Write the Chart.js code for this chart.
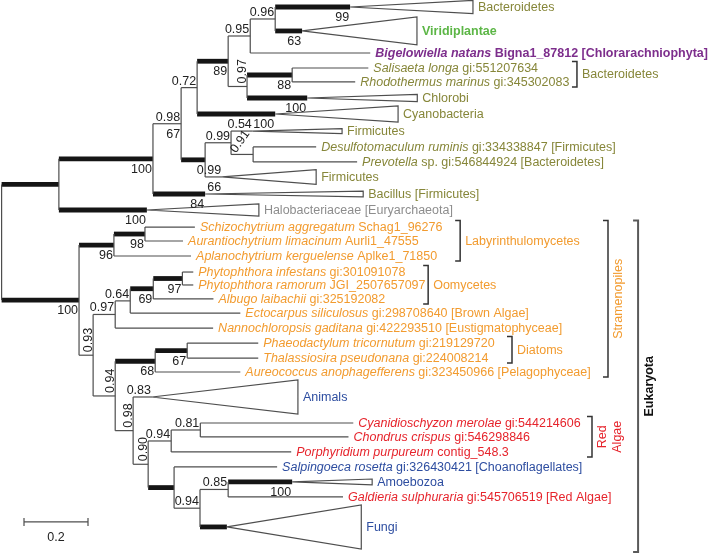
<!DOCTYPE html>
<html>
<head>
<meta charset="utf-8">
<script src="https://cdn.jsdelivr.net/npm/chart.js@4.4.0/dist/chart.umd.min.js"></script>
<style>
  html, body { margin: 0; padding: 0; background: #fff; }
  #wrap { width: 720px; height: 553px; }
</style>
</head>
<body>
<div id="wrap"><canvas id="tree" width="720" height="553"></canvas></div>
<script>
// internal nodes: parent and branch length (substitutions per site)
const nodeNames   = ['A','B','C','L','G','J','K','H','I','D','E','F','M','N','NB','W','O','P','Q','S','V','T','U','X','Y','Z','AB','AA','AC','AD'];
const nodeParents = ['root','A','B','C','L','G','J','G','H','C','D','E','root','M','N','M','W','O','P','Q','W','V','T','V','X','Y','Z','Y','AA','AC'];
const nodeLengths = [0.179,0.294,0.088,0.05,0.097,0.069,0.078,0.059,0.141,0.075,0.081,0.069,0.242,0.109,0.097,0.044,0.069,0.047,0.072,0.091,0.069,0.125,0.1,0.056,0.047,0.072,0.091,0.081,0.081,0.088];
const nodePost    = [null,null,0.98,0.72,null,0.95,0.96,0.97,null,null,0.99,0.91,null,null,null,0.93,0.97,0.64,null,null,0.94,null,null,0.98,0.90,0.94,0.81,null,0.94,0.85];
const nodeBoot    = [null,100,67,null,89,null,null,null,88,null,null,null,100,96,98,null,null,null,69,97,null,68,67,null,null,null,null,null,null,null];
const nodeThick   = [1,1,0,0,1,0,0,0,1,1,0,0,1,1,1,0,0,0,1,1,0,1,1,0,0,0,0,1,0,0];

// leaves, top to bottom (collapsed clades have a width and a half-height)
const leafLabels = [
  'Bacteroidetes', 'Viridiplantae', '*Bigelowiella natans* Bigna1_87812 [Chlorarachniophyta]',
  '*Salisaeta longa* gi:551207634', '*Rhodothermus marinus* gi:345302083', 'Chlorobi', 'Cyanobacteria',
  'Firmicutes', '*Desulfotomaculum ruminis* gi:334338847 [Firmicutes]', '*Prevotella* sp. gi:546844924 [Bacteroidetes]',
  'Firmicutes', 'Bacillus [Firmicutes]', 'Halobacteriaceae [Euryarchaeota]',
  '*Schizochytrium aggregatum* Schag1_96276', '*Aurantiochytrium limacinum* Aurli1_47555', '*Aplanochytrium kerguelense* Aplke1_71850',
  '*Phytophthora infestans* gi:301091078', '*Phytophthora ramorum* JGI_2507657097', '*Albugo laibachii* gi:325192082',
  '*Ectocarpus siliculosus* gi:298708640 [Brown Algae]', '*Nannochloropsis gaditana* gi:422293510 [Eustigmatophyceae]',
  '*Phaeodactylum tricornutum* gi:219129720', '*Thalassiosira pseudonana* gi:224008214', '*Aureococcus anophagefferens* gi:323450966 [Pelagophyceae]',
  'Animals', '*Cyanidioschyzon merolae* gi:544214606', '*Chondrus crispus* gi:546298846', '*Porphyridium purpureum* contig_548.3',
  '*Salpingoeca rosetta* gi:326430421 [Choanoflagellates]', 'Amoebozoa', '*Galdieria sulphuraria* gi:545706519 [Red Algae]', 'Fungi'
];
const leafGroups  = ['bac','plant','chlor','bac','bac','bac','bac','bac','bac','bac','bac','bac','arch',
                     'stram','stram','stram','stram','stram','stram','stram','stram','stram','stram','stram',
                     'opis','red','red','red','opis','opis','red','opis'];
const leafParents = ['K','K','J','I','I','H','L','E','F','F','D','B','A','NB','NB','N','S','S','Q','P','O','U','U','T','X','AB','AB','Z','AA','AD','AD','AC'];
const leafLengths = [0.234,0.084,0.375,0.238,0.197,0.188,0.244,0.068,0.197,0.325,0.053,0.163,0.275,0.156,0.119,0.241,0.034,0.034,0.188,0.344,0.306,0.222,0.222,0.266,0.059,0.478,0.463,0.375,0.322,0.2,0.359,0.084];
const leafRows    = [0,1.63,3.13,4.15,5.1,6.19,7.28,8.44,9.52,10.54,11.56,12.72,13.81,14.97,15.92,16.94,18.03,18.91,19.86,20.82,21.84,22.86,23.88,24.83,26.53,28.3,29.25,30.27,31.29,32.31,33.33,35.37];
const cladeWidths = [0.384,0.359,0,0,0,0.344,0.384,0.279,0,0,0.294,0.494,0.35,0,0,0,0,0,0,0,0,0,0,0,0.456,0,0,0,0,0.25,0,0.42];
const cladeSpans  = [0.45,0.95,0,0,0,0.24,0.55,0.17,0,0,0.5,0.2,0.42,0,0,0,0,0,0,0,0,0,0,0,1.16,0,0,0,0,0.2,0,1.5];
const leafPost    = [null,null,null,null,null,null,null,0.54,null,null,0.99,null,null,null,null,null,null,null,null,null,null,null,null,null,0.83,null,null,null,null,null,null,null];
const leafBoot    = [99,63,null,null,null,100,100,null,null,null,66,84,100,null,null,null,null,null,null,null,null,null,null,null,null,null,null,null,null,100,null,null];
const leafThick   = [1,1,0,0,0,1,1,0,0,0,0,1,1,0,0,0,0,0,0,0,0,0,0,0,0,0,0,0,0,1,0,1];

// bracketed groups (first leaf, last leaf, bracket position on the distance axis)
const groupNames = ['Bacteroidetes','Labyrinthulomycetes','Oomycetes','Diatoms','Red\nAlgae','Stramenopiles','Eukaryota'];
const groupFirst = [3,13,16,21,25,13,13];
const groupLast  = [4,15,18,22,27,23,31];
const groupX     = [1.798,1.433,1.333,1.595,1.845,1.895,1.989];

const scaleBarLength = 0.2;

const FONT = '"Liberation Sans", Arial, Helvetica, sans-serif';
const SIZE = 12.5;
const COLORS = { bac: '#868639', plant: '#5cb646', chlor: '#7d2e8c', arch: '#8d8d8d', stram: '#f29b2f', opis: '#2d4da0', red: '#e6242c' };
const groupColors = ['#868639','#f29b2f','#f29b2f','#f29b2f','#e6242c','#f29b2f','#111'];
const THIN = '#4e4e4e', THICK = '#151515';

function depthOf(name) {
  if (name === 'root') return 0;
  const i = nodeNames.indexOf(name);
  return depthOf(nodeParents[i]) + nodeLengths[i];
}
function spanOf(name) {
  const kids = [];
  leafParents.forEach((p, i) => { if (p === name) kids.push(leafRows[i]); });
  nodeParents.forEach((p, i) => { if (p === name) kids.push(spanOf(nodeNames[i]).mid); });
  const min = Math.min(...kids), max = Math.max(...kids);
  return { min, max, mid: (min + max) / 2 };
}

function seg(points, thick) {
  return {
    data: points, showLine: true, pointRadius: 0, fill: false,
    borderColor: thick ? THICK : THIN, borderWidth: thick ? 4.8 : 1.2,
    borderCapStyle: 'butt', borderJoinStyle: 'miter', tension: 0
  };
}

const datasets = [];
const internals = ['root'].concat(nodeNames);
internals.forEach(n => {
  const s = spanOf(n), x = depthOf(n);
  datasets.push(seg([{ x, y: s.min }, { x, y: s.max }], false));
});
nodeNames.forEach((n, i) => {
  const y = spanOf(n).mid;
  datasets.push(seg([{ x: depthOf(nodeParents[i]), y }, { x: depthOf(n), y }], nodeThick[i]));
});
leafLabels.forEach((lab, i) => {
  const px = depthOf(leafParents[i]), x = px + leafLengths[i], y = leafRows[i];
  if (cladeWidths[i] > 0) {
    const w = x + cladeWidths[i], h = cladeSpans[i];
    datasets.push(seg([{ x, y }, { x: w, y: y - h }, { x: w, y: y + h }, { x, y }], false));
  }
  datasets.push(seg([{ x: px, y }, { x, y }], leafThick[i]));
});
// scale bar
const barRow = 35.03, barX = 0.07;
datasets.push(seg([{ x: barX, y: barRow }, { x: barX + scaleBarLength, y: barRow }], false));
datasets.push(seg([{ x: barX, y: barRow - 0.27 }, { x: barX, y: barRow + 0.27 }], false));
datasets.push(seg([{ x: barX + scaleBarLength, y: barRow - 0.27 }, { x: barX + scaleBarLength, y: barRow + 0.27 }], false));

function drawRich(ctx, text, x, y, color, bold) {
  let cx = x;
  text.split('*').forEach((part, k) => {
    if (!part) return;
    ctx.font = (k % 2 ? 'italic ' : '') + (bold ? 'bold ' : '') + SIZE + 'px ' + FONT;
    ctx.fillStyle = color;
    ctx.fillText(part, cx, y);
    cx += ctx.measureText(part).width;
  });
}

const rotatedPost = { H: -90, W: -90, V: -90, X: -90, Y: -90, F: -55 };

const treeLabels = {
  id: 'treeLabels',
  afterDatasetsDraw(chart) {
    const ctx = chart.ctx, xs = chart.scales.x, ys = chart.scales.y;
    const X = v => xs.getPixelForValue(v), Y = v => ys.getPixelForValue(v);
    ctx.save();

    // leaf labels
    ctx.textAlign = 'left';
    ctx.textBaseline = 'middle';
    leafLabels.forEach((lab, i) => {
      const end = depthOf(leafParents[i]) + leafLengths[i] + cladeWidths[i];
      const g = leafGroups[i];
      drawRich(ctx, lab, X(end) + 5, Y(leafRows[i]) + 0.5, COLORS[g], g === 'plant' || g === 'chlor');
    });

    // support values
    ctx.font = SIZE + 'px ' + FONT;
    ctx.fillStyle = '#222';
    function support(post, boot, name, x, y) {
      if (post != null) {
        const txt = post.toFixed(2);
        if (rotatedPost[name]) {
          ctx.save();
          const off = rotatedPost[name] === -90 ? 1 : 17;
          ctx.translate(X(x) - off, Y(y) - (off === 1 ? 3 : 1));
          ctx.rotate(rotatedPost[name] * Math.PI / 180);
          ctx.textAlign = 'left';
          ctx.textBaseline = 'alphabetic';
          ctx.fillText(txt, 0, 0);
          ctx.restore();
        } else {
          ctx.textAlign = 'right';
          ctx.textBaseline = 'alphabetic';
          ctx.fillText(txt, X(x) - 1, Y(y) - 3);
        }
      }
      if (boot != null) {
        ctx.textAlign = 'right';
        ctx.textBaseline = 'alphabetic';
        ctx.fillText(String(boot), X(x) - 1, Y(y) + 14);
      }
    }
    nodeNames.forEach((n, i) => support(nodePost[i], nodeBoot[i], n, depthOf(n), spanOf(n).mid));
    leafLabels.forEach((lab, i) => support(leafPost[i], leafBoot[i], 'leaf' + i, depthOf(leafParents[i]) + leafLengths[i], leafRows[i]));

    // scale bar label
    ctx.textAlign = 'center';
    ctx.fillText(String(scaleBarLength), X(barX + scaleBarLength / 2), Y(barRow) + 19);

    // group brackets
    groupNames.forEach((name, i) => {
      const f = groupFirst[i], l = groupLast[i];
      const top = Y(leafRows[f] - cladeSpans[f]) - 6.5;
      const bot = Math.min(Y(leafRows[l] + cladeSpans[l]) + 5, 552);
      const bx = X(groupX[i]);
      const big = name === 'Eukaryota';
      ctx.strokeStyle = big ? '#5a5a5a' : '#333';
      ctx.lineWidth = big ? 2 : 1.5;
      ctx.beginPath();
      ctx.moveTo(bx - 5, top); ctx.lineTo(bx, top); ctx.lineTo(bx, bot); ctx.lineTo(bx - 5, bot);
      ctx.stroke();
      const cy = (top + bot) / 2;
      ctx.fillStyle = groupColors[i];
      const vertical = name === 'Stramenopiles' || name === 'Eukaryota' || name.includes('\n');
      if (!vertical) {
        ctx.font = SIZE + 'px ' + FONT;
        ctx.textAlign = 'left';
        ctx.textBaseline = 'middle';
        ctx.fillText(name, bx + 5, cy + 0.5);
      } else {
        const lines = name.split('\n');
        ctx.font = (big ? 'bold ' : '') + SIZE + 'px ' + FONT;
        lines.forEach((t, k) => {
          ctx.save();
          ctx.translate(bx + 11 + k * 15, cy);
          ctx.rotate(-Math.PI / 2);
          ctx.textAlign = 'center';
          ctx.textBaseline = 'middle';
          ctx.fillText(t, 0, 0);
          ctx.restore();
        });
      }
    });
    ctx.restore();
  }
};

new Chart(document.getElementById('tree'), {
  type: 'scatter',
  data: { datasets },
  options: {
    responsive: false,
    animation: false,
    events: [],
    layout: { padding: 0 },
    plugins: { legend: { display: false }, tooltip: { enabled: false } },
    scales: {
      x: { type: 'linear', min: -0.005, max: 2.245, display: false },
      y: { type: 'linear', min: -0.476, max: 37.143, reverse: true, display: false }
    }
  },
  plugins: [treeLabels]
});
</script>
</body>
</html>
